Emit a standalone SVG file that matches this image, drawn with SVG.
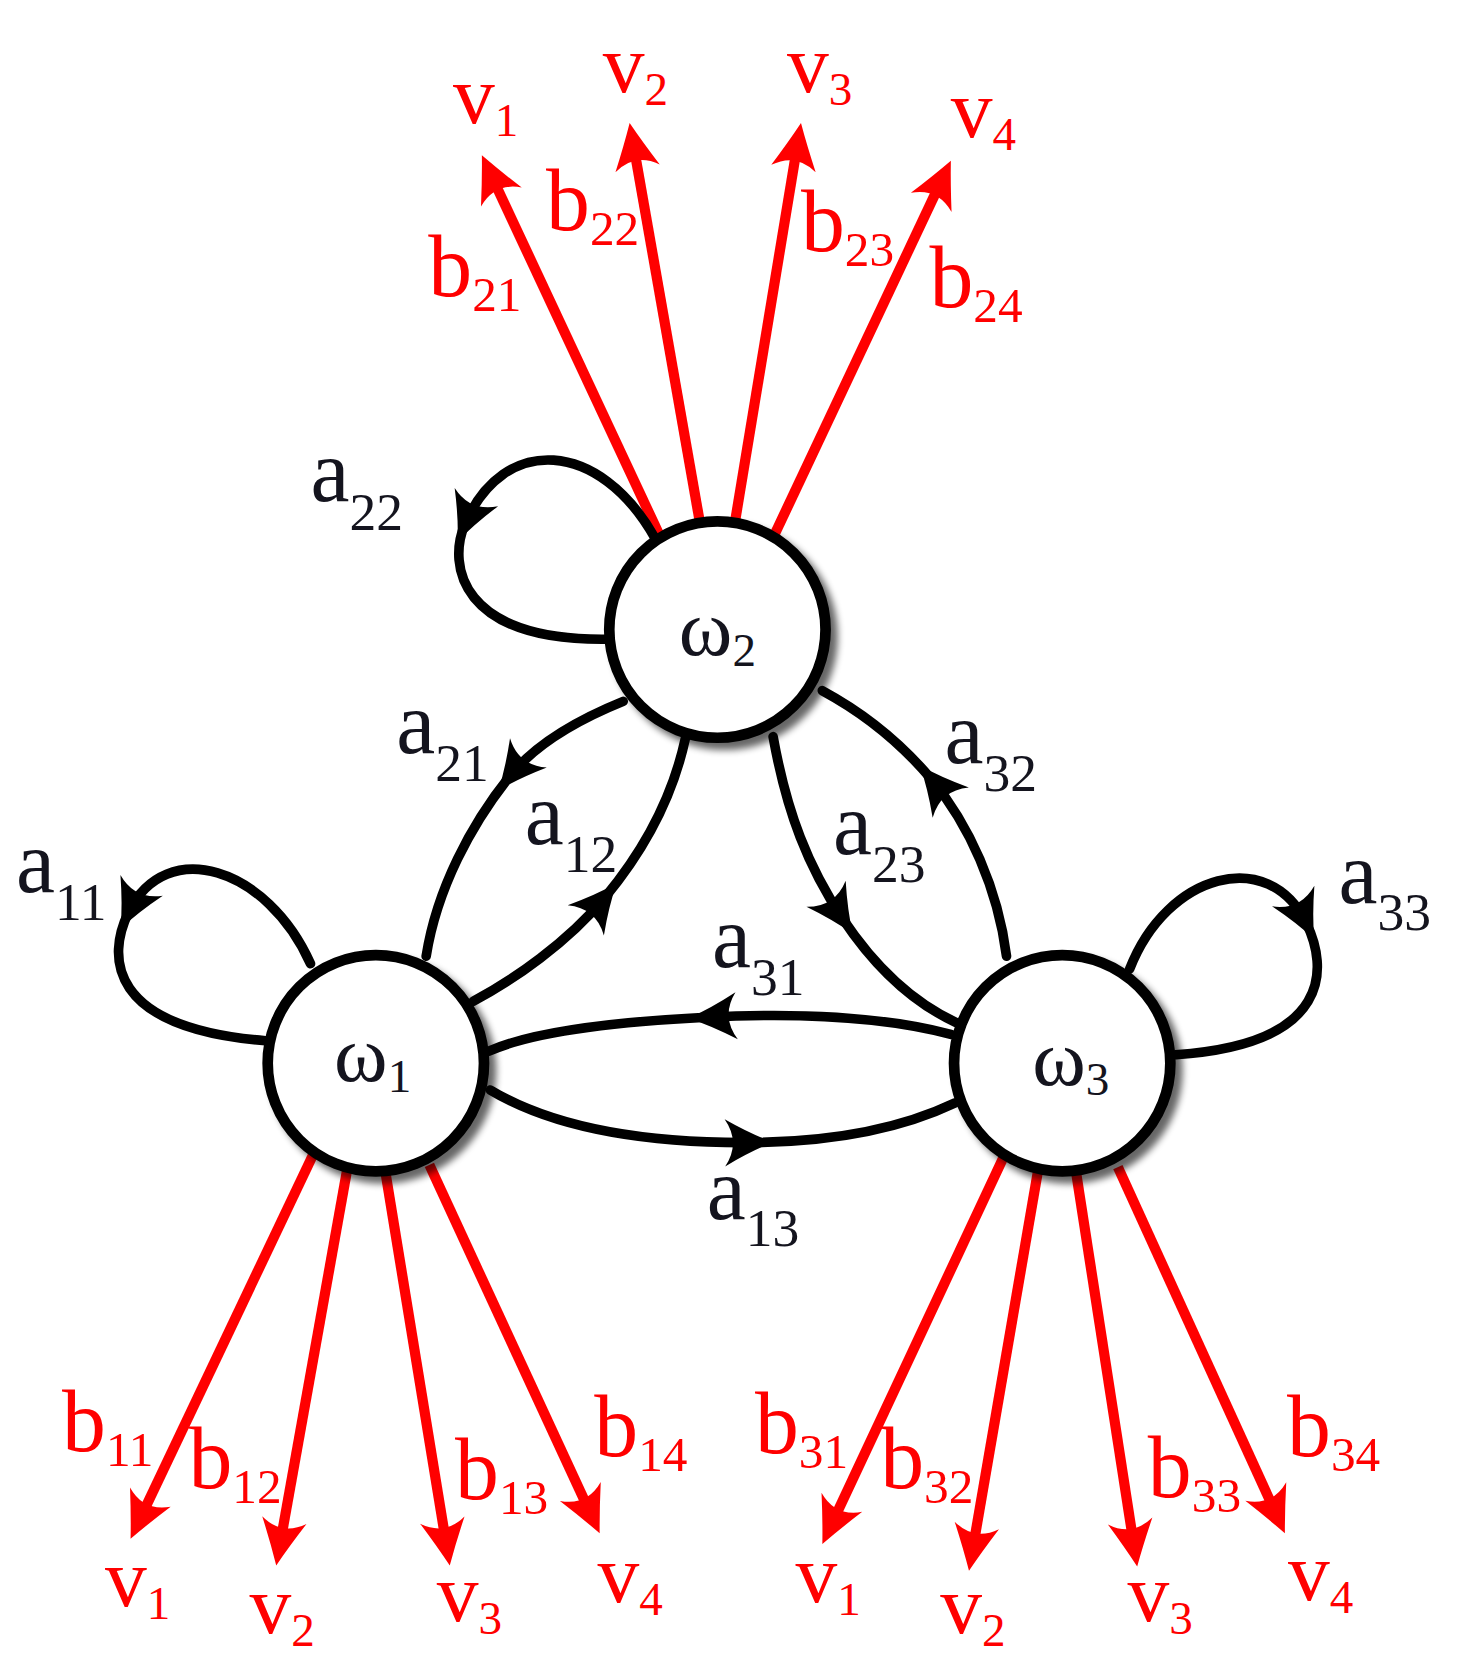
<svg xmlns="http://www.w3.org/2000/svg" width="1483" height="1679" viewBox="0 0 1483 1679">
<style>
.blk{fill:none;stroke:#000;stroke-width:9;stroke-linecap:round}
.red{fill:none;stroke:#ff0000;stroke-width:9.5}
.node{fill:#fff;stroke:#000;stroke-width:10}
.lab{font-family:"Liberation Serif","Times New Roman",serif;fill:#14141e}
.rl{font-family:"Liberation Serif","Times New Roman",serif;fill:#ff0000}
.a{font-size:82px}
.b{font-size:82px}
.v{font-size:78px}
.w{font-size:76px}
.sa{font-size:50px}
.sb{font-size:46px}
.sv{font-size:44px}
</style>
<defs>
<marker id="ra" markerUnits="userSpaceOnUse" viewBox="-34 -24 50 48" markerWidth="50" markerHeight="48" refX="0" refY="0" orient="auto">
<path d="M12 0 Q-8 -9 -31 -21 Q-16 0 -31 21 Q-8 9 12 0 Z" fill="#ff0000"/>
</marker>
<marker id="ba" markerUnits="userSpaceOnUse" viewBox="-32 -26 52 52" markerWidth="52" markerHeight="52" refX="0" refY="0" orient="auto">
<path d="M17 0 Q-4 -8 -28 -22 Q-13 0 -28 22 Q-4 8 17 0 Z" fill="#000"/>
</marker>
<filter id="sh" x="-20%" y="-20%" width="150%" height="150%">
<feGaussianBlur in="SourceAlpha" stdDeviation="3.5"/>
<feOffset dx="7" dy="7" result="o"/>
<feComponentTransfer><feFuncA type="linear" slope="0.6"/></feComponentTransfer>
<feMerge><feMergeNode/><feMergeNode in="SourceGraphic"/></feMerge>
</filter>
</defs>
<g transform="scale(1.07076)">
<g id="connectors">
<path class="red" marker-end="url(#ra)" d="M616 500 L455.1 155.9"/>
<path class="red" marker-end="url(#ra)" d="M654 490 L590.1 126.8"/>
<path class="red" marker-end="url(#ra)" d="M686 490 L746.1 126.8"/>
<path class="red" marker-end="url(#ra)" d="M723 500 L882.9 160.9"/>
<path class="red" marker-end="url(#ra)" d="M294 1075 L127.1 1426.2"/>
<path class="red" marker-end="url(#ra)" d="M325 1088 L260.1 1450.2"/>
<path class="red" marker-end="url(#ra)" d="M360 1095 L418.1 1450.2"/>
<path class="red" marker-end="url(#ra)" d="M401 1088 L555 1421.1"/>
<path class="red" marker-end="url(#ra)" d="M939 1077 L773.1 1431.1"/>
<path class="red" marker-end="url(#ra)" d="M970 1090 L907 1455.2"/>
<path class="red" marker-end="url(#ra)" d="M1005 1095 L1060.2 1451.1"/>
<path class="red" marker-end="url(#ra)" d="M1044 1090 L1195 1421.1"/>
<path class="blk" marker-mid="url(#ba)" d="M612 503 C560 410 470 405 434 490 C418 528 430 598 565 597"/>
<path class="blk" marker-mid="url(#ba)" d="M290 900 C250 810 155 780 120 852 C100 893 100 960 248 972"/>
<path class="blk" marker-mid="url(#ba)" d="M1055 905 C1090 815 1185 790 1220 862 C1240 903 1245 975 1098 985"/>
<path class="blk" marker-mid="url(#ba)" d="M582 655 C540 672 500 695 476 725 C440 770 408 830 398 893"/>
<path class="blk" marker-mid="url(#ba)" d="M442 935 C480 915 530 880 565 838 C600 796 628 745 640 690"/>
<path class="blk" marker-mid="url(#ba)" d="M722 688 C735 760 755 810 787 858 C815 900 850 935 893 955"/>
<path class="blk" marker-mid="url(#ba)" d="M940 893 C932 830 905 770 870 728 C840 692 805 665 768 645"/>
<path class="blk" marker-mid="url(#ba)" d="M888 966 C820 948 740 946 660 950 C580 954 500 962 456 982"/>
<path class="blk" marker-mid="url(#ba)" d="M458 1018 C520 1055 610 1068 705 1067 C790 1066 850 1050 892 1030"/>
</g>
<g id="node-w2"><circle class="node" cx="670" cy="588" r="101" filter="url(#sh)"/><text class="lab w" x="634" y="612">ω<tspan class="sv" dy="10">2</tspan></text></g>
<g id="node-w1"><circle class="node" cx="351" cy="993" r="101" filter="url(#sh)"/><text class="lab w" x="312" y="1010">ω<tspan class="sv" dy="10">1</tspan></text></g>
<g id="node-w3"><circle class="node" cx="992" cy="993" r="101" filter="url(#sh)"/><text class="lab w" x="964" y="1013">ω<tspan class="sv" dy="10">3</tspan></text></g>
<g id="labels">
<text class="lab a" x="290" y="468">a<tspan class="sa" dy="27">22</tspan></text>
<text class="lab a" x="370" y="703">a<tspan class="sa" dy="26">21</tspan></text>
<text class="lab a" x="490" y="788">a<tspan class="sa" dy="26">12</tspan></text>
<text class="lab a" x="15" y="833">a<tspan class="sa" dy="26">11</tspan></text>
<text class="lab a" x="882" y="713">a<tspan class="sa" dy="26">32</tspan></text>
<text class="lab a" x="778" y="798">a<tspan class="sa" dy="26">23</tspan></text>
<text class="lab a" x="1250" y="843">a<tspan class="sa" dy="26">33</tspan></text>
<text class="lab a" x="665" y="903">a<tspan class="sa" dy="26">31</tspan></text>
<text class="lab a" x="660" y="1138">a<tspan class="sa" dy="26">13</tspan></text>
<text class="rl b" x="400" y="276">b<tspan class="sb" dy="14">21</tspan></text>
<text class="rl b" x="510" y="215">b<tspan class="sb" dy="14">22</tspan></text>
<text class="rl b" x="748" y="234">b<tspan class="sb" dy="14">23</tspan></text>
<text class="rl b" x="868" y="287">b<tspan class="sb" dy="14">24</tspan></text>
<text class="rl b" x="58" y="1355">b<tspan class="sb" dy="14">11</tspan></text>
<text class="rl b" x="176" y="1390">b<tspan class="sb" dy="14">12</tspan></text>
<text class="rl b" x="425" y="1400">b<tspan class="sb" dy="14">13</tspan></text>
<text class="rl b" x="555" y="1360">b<tspan class="sb" dy="14">14</tspan></text>
<text class="rl b" x="705" y="1357">b<tspan class="sb" dy="14">31</tspan></text>
<text class="rl b" x="822" y="1390">b<tspan class="sb" dy="14">32</tspan></text>
<text class="rl b" x="1072" y="1398">b<tspan class="sb" dy="14">33</tspan></text>
<text class="rl b" x="1202" y="1360">b<tspan class="sb" dy="14">34</tspan></text>
<text class="rl v" x="423" y="115">v<tspan class="sv" dy="12">1</tspan></text>
<text class="rl v" x="563" y="86">v<tspan class="sv" dy="12">2</tspan></text>
<text class="rl v" x="735" y="86">v<tspan class="sv" dy="12">3</tspan></text>
<text class="rl v" x="888" y="128">v<tspan class="sv" dy="12">4</tspan></text>
<text class="rl v" x="98" y="1500">v<tspan class="sv" dy="12">1</tspan></text>
<text class="rl v" x="233" y="1525">v<tspan class="sv" dy="12">2</tspan></text>
<text class="rl v" x="408" y="1514">v<tspan class="sv" dy="12">3</tspan></text>
<text class="rl v" x="558" y="1496">v<tspan class="sv" dy="12">4</tspan></text>
<text class="rl v" x="743" y="1496">v<tspan class="sv" dy="12">1</tspan></text>
<text class="rl v" x="878" y="1525">v<tspan class="sv" dy="12">2</tspan></text>
<text class="rl v" x="1053" y="1514">v<tspan class="sv" dy="12">3</tspan></text>
<text class="rl v" x="1203" y="1494">v<tspan class="sv" dy="12">4</tspan></text>
</g>
</g>
</svg>
